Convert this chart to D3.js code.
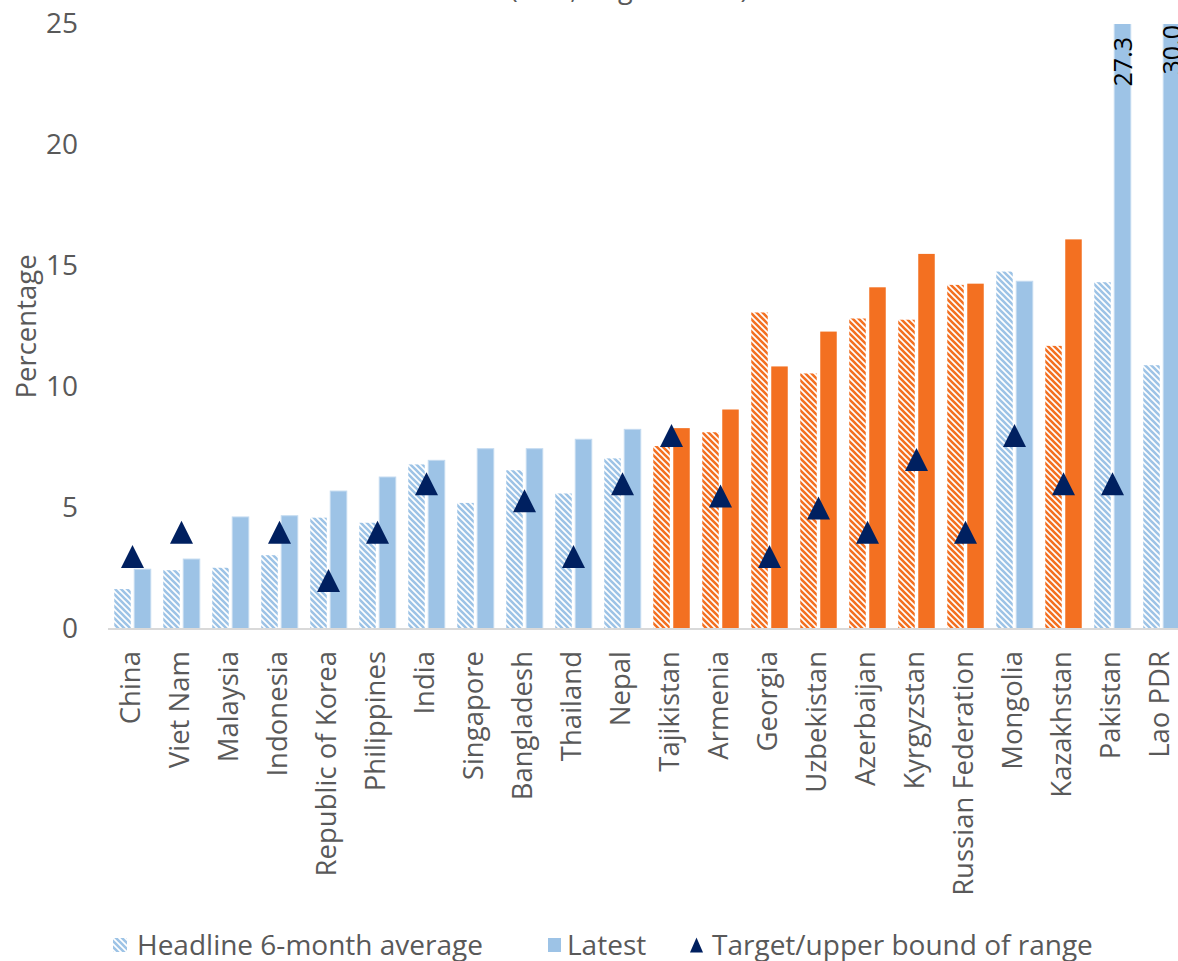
<!DOCTYPE html>
<html>
<head>
<meta charset="utf-8">
<script src="https://cdn.jsdelivr.net/npm/d3@7"></script>
<style>
  html, body { margin: 0; padding: 0; background: #fff; }
  svg { display: block; font-family: "Open Sans", "Noto Sans", sans-serif; }
</style>
</head>
<body>
<svg id="chart" width="1178" height="961"></svg>
<script>
const categories = ["China","Viet Nam","Malaysia","Indonesia","Republic of Korea","Philippines","India","Singapore","Bangladesh","Thailand","Nepal","Tajikistan","Armenia","Georgia","Uzbekistan","Azerbaijan","Kyrgyzstan","Russian Federation","Mongolia","Kazakhstan","Pakistan","Lao PDR"];
const headline6m = [1.65, 2.43, 2.53, 3.05, 4.6, 4.39, 6.8, 5.21, 6.56, 5.6, 7.05, 7.56, 8.13, 13.08, 10.56, 12.83, 12.78, 14.22, 14.77, 11.7, 14.33, 10.9];
const latest = [2.47, 2.89, 4.63, 4.68, 5.7, 6.28, 6.97, 7.45, 7.45, 7.84, 8.25, 8.3, 9.07, 10.85, 12.29, 14.12, 15.5, 14.27, 14.37, 16.1, 27.3, 30.0];
const target = [3, 4, null, 4, 2, 4, 6, null, 5.3, 3, 6, 8, 5.5, 3, 5, 4, 7, 4, 8, 6, 6, null];
const regionGroup = ["blue","blue","blue","blue","blue","blue","blue","blue","blue","blue","blue","orange","orange","orange","orange","orange","orange","orange","blue","orange","blue","blue"];
const labelledCats = ["Pakistan","Lao PDR"];
const yTicks = [0, 5, 10, 15, 20, 25];
const seriesNames = ["Headline 6-month average", "Latest", "Target/upper bound of range"];
const titleText = "(in %, August 2022)";

const BLUE = "#9DC3E6", ORANGE = "#F37021", NAVY = "#002060", TXT = "#595959";

const svg = d3.select("#chart");
const defs = svg.append("defs");

function hatch(id, color) {
  const s = 6;
  const p = defs.append("pattern").attr("id", id).attr("patternUnits", "userSpaceOnUse")
    .attr("width", s).attr("height", s);
  p.append("rect").attr("width", s).attr("height", s).attr("fill", "#fff");
  p.append("path").attr("d", `M-1,-1 L${s+1},${s+1} M-1,${s-1} L1,${s+1} M${s-1},-1 L${s+1},1`)
    .attr("stroke", color).attr("stroke-width", 2.6).attr("fill", "none");
}
hatch("hatch-blue", BLUE);
hatch("hatch-orange", ORANGE);

const x = d3.scaleBand().domain(categories).range([108, 1186]).padding(0);
const xs = d3.scaleBand().domain(["h", "l"]).range([0, x.bandwidth()]).paddingInner(0.175).paddingOuter(0.3125);
const y = d3.scaleLinear().domain([0, 25]).range([629, 24]);

defs.append("clipPath").attr("id", "plotclip").append("rect")
  .attr("x", 100).attr("y", y(25)).attr("width", 1100).attr("height", y(0) - y(25));

const data = categories.map((c, i) => ({c, h: headline6m[i], l: latest[i], t: target[i], g: regionGroup[i]}));

// title (cut by top of canvas, as in the reference)
svg.append("text").attr("x", 629).attr("y", -2).attr("text-anchor", "middle")
  .attr("font-size", 27).attr("fill", TXT).text(titleText);

const plot = svg.append("g").attr("clip-path", "url(#plotclip)");

plot.selectAll("rect.h").data(data).join("rect").attr("class", "h")
  .attr("x", d => x(d.c) + xs("h")).attr("width", xs.bandwidth())
  .attr("y", d => y(d.h)).attr("height", d => y(0) - y(d.h))
  .attr("fill", d => d.g === "orange" ? "url(#hatch-orange)" : "url(#hatch-blue)");

plot.selectAll("rect.l").data(data).join("rect").attr("class", "l")
  .attr("x", d => x(d.c) + xs("l")).attr("width", xs.bandwidth())
  .attr("y", d => y(d.l)).attr("height", d => y(0) - y(d.l))
  .attr("fill", d => d.g === "orange" ? ORANGE : BLUE)
  .attr("stroke", d => d.g === "orange" ? "none" : "#C3DAF0").attr("stroke-width", 1);

// axis line
svg.append("line").attr("x1", 108).attr("x2", 1178).attr("y1", y(0)).attr("y2", y(0))
  .attr("stroke", "#D9D9D9").attr("stroke-width", 2);

// triangles
const tri = (w, h) => `M0,${-h/2} L${w/2},${h/2} L${-w/2},${h/2} Z`;
svg.selectAll("path.tri").data(data.filter(d => d.t != null)).join("path").attr("class", "tri")
  .attr("d", tri(23, 23))
  .attr("transform", d => `translate(${x(d.c) + x.bandwidth()/2},${y(d.t)})`)
  .attr("fill", NAVY);

// data labels for bars that exceed the axis
const labelOffset = {"Pakistan": 13, "Lao PDR": 1};
svg.selectAll("text.dl").data(data.filter(d => labelledCats.includes(d.c))).join("text").attr("class", "dl")
  .attr("transform", d => `translate(${x(d.c) + xs("l") + xs.bandwidth()/2},${y(25) + labelOffset[d.c]}) rotate(-90)`)
  .attr("text-anchor", "end").attr("dy", "0.36em")
  .attr("font-size", 25).attr("fill", "#000")
  .text(d => d.l.toFixed(1));

// y axis
const yAxis = d3.axisLeft(y).tickValues(yTicks).tickSize(0).tickPadding(0).tickFormat(d3.format("d"));
const yg = svg.append("g").attr("transform", "translate(78,0)").call(yAxis);
yg.select(".domain").remove();
yg.selectAll("text").attr("font-size", 28).attr("fill", TXT).attr("font-family", "'Open Sans', sans-serif");

svg.append("text").attr("transform", `translate(26,${(y(0)+y(25))/2}) rotate(-90)`)
  .attr("text-anchor", "middle").attr("dy", "0.36em").attr("font-size", 27.5).attr("fill", TXT).text("Percentage");

// x axis labels
const xAxis = d3.axisBottom(x).tickSize(0).tickPadding(0);
const xg = svg.append("g").attr("transform", `translate(0,${y(0)})`).call(xAxis);
xg.select(".domain").remove();
xg.selectAll("text")
  .attr("font-size", 27.5).attr("fill", TXT).attr("font-family", "'Open Sans', sans-serif")
  .attr("text-anchor", "end").attr("y", null)
  .attr("transform", "translate(-2,22) rotate(-90)").attr("dy", "0.36em");

// legend
const lg = svg.append("g").attr("font-size", 28).attr("fill", TXT);
const ly = 945;
lg.append("rect").attr("x", 113).attr("y", ly - 7).attr("width", 14).attr("height", 14).attr("fill", "url(#hatch-blue)");
lg.append("text").attr("x", 137).attr("y", ly).attr("dy", "0.36em").text(seriesNames[0]);
lg.append("rect").attr("x", 548).attr("y", ly - 7).attr("width", 13).attr("height", 14).attr("fill", BLUE);
lg.append("text").attr("x", 567).attr("y", ly).attr("dy", "0.36em").text(seriesNames[1]);
lg.append("path").attr("d", tri(13, 15)).attr("transform", `translate(696.5,${ly})`).attr("fill", NAVY);
lg.append("text").attr("x", 712).attr("y", ly).attr("dy", "0.36em").text(seriesNames[2]);
</script>
</body>
</html>
